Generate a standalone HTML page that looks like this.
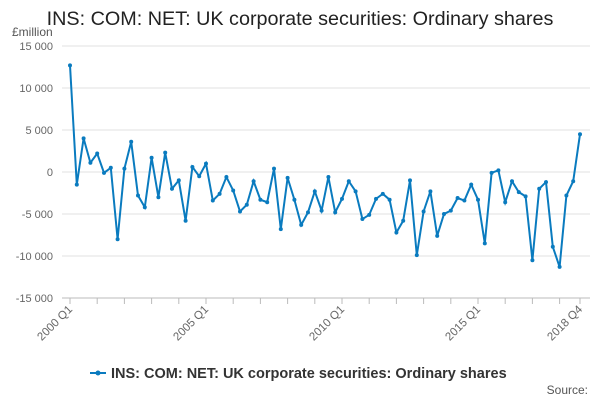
<!DOCTYPE html>
<html><head><meta charset="utf-8"><style>
body{margin:0;background:#fff;font-family:"Liberation Sans",sans-serif}
svg text{font-family:"Liberation Sans",sans-serif}
</style></head><body>
<svg id="c" width="600" height="400">
<text x="300" y="25" text-anchor="middle" font-size="19.8" fill="#222">INS: COM: NET: UK corporate securities: Ordinary shares</text>
<text x="12" y="36" font-size="12" fill="#555">£million</text>
<g id="grid"></g><g id="xax"></g><g id="series"></g>
<g>
<line x1="90" y1="373" x2="106" y2="373" stroke="#0a7bbf" stroke-width="2"/>
<circle cx="98" cy="373" r="2.5" fill="#0a7bbf"/>
<text x="111" y="378" font-size="14.5" font-weight="bold" fill="#333">INS: COM: NET: UK corporate securities: Ordinary shares</text>
</g>
<text x="588" y="394" text-anchor="end" font-size="12" fill="#555">Source:</text>
</svg>
<script>
const values=[12700,-1500,4000,1100,2200,-100,500,-8000,400,3600,-2800,-4200,1700,-3000,2300,-2000,-1000,-5800,600,-500,1000,-3400,-2600,-600,-2200,-4700,-3900,-1100,-3300,-3600,400,-6800,-700,-3300,-6300,-4800,-2300,-4600,-600,-4800,-3200,-1100,-2300,-5600,-5100,-3200,-2600,-3300,-7200,-5800,-1000,-9900,-4700,-2300,-7600,-5000,-4600,-3100,-3400,-1500,-3300,-8500,-100,200,-3600,-1100,-2400,-2900,-10500,-2000,-1200,-8900,-11300,-2800,-1100,4500];
const yTicks=[15000,10000,5000,0,-5000,-10000,-15000];
const xLabels=["2000 Q1","2005 Q1","2010 Q1","2015 Q1","2018 Q4"];
const xLabelIdx=[0,20,40,60,75];
const NS="http://www.w3.org/2000/svg";
const X=i=>70+i*(510/75), Y=v=>172-v*(126/15000);
function mk(t,a,p){const e=document.createElementNS(NS,t);for(const k in a)e.setAttribute(k,a[k]);p.appendChild(e);return e;}
const grid=document.getElementById('grid');
yTicks.forEach(v=>{
 const l=mk('line',{x1:62,x2:590,y1:Y(v),y2:Y(v),stroke:v===-15000?'#bbb':'#e2e2e2','stroke-width':1},grid);
 
 
 const t=mk('text',{x:53,y:Y(v)+4,'text-anchor':'end','font-size':11,fill:'#666'},grid);
 t.textContent=v===0?'0':(v<0?'-':'')+Math.abs(v).toLocaleString('en').replace(',',' ');
 
 
});
const xax=document.getElementById('xax');
for(let yr=0;yr<19;yr++){const i=yr*4;mk('line',{x1:X(i),x2:X(i),y1:298,y2:304,stroke:'#bbb'},xax);}
mk('line',{x1:X(75),x2:X(75),y1:298,y2:304,stroke:'#bbb'},xax);
xLabels.forEach((s,k)=>{
 const x=X(xLabelIdx[k]);
 const t=mk('text',{x:x+3,y:310,'text-anchor':'end','font-size':11.5,fill:'#666',transform:`rotate(-45 ${x+3} 310)`},xax);
 t.textContent=s;
 
 
});
const g=document.getElementById('series');
const pl=mk('polyline',{points:values.map((v,i)=>X(i)+','+Y(v)).join(' '),fill:'none',stroke:'#0a7bbf','stroke-width':2},g);


values.forEach((v,i)=>{
 const c=mk('circle',{cx:X(i),cy:Y(v),r:2,fill:'#0a7bbf'},g);
 
 
});
</script>
</body></html>
